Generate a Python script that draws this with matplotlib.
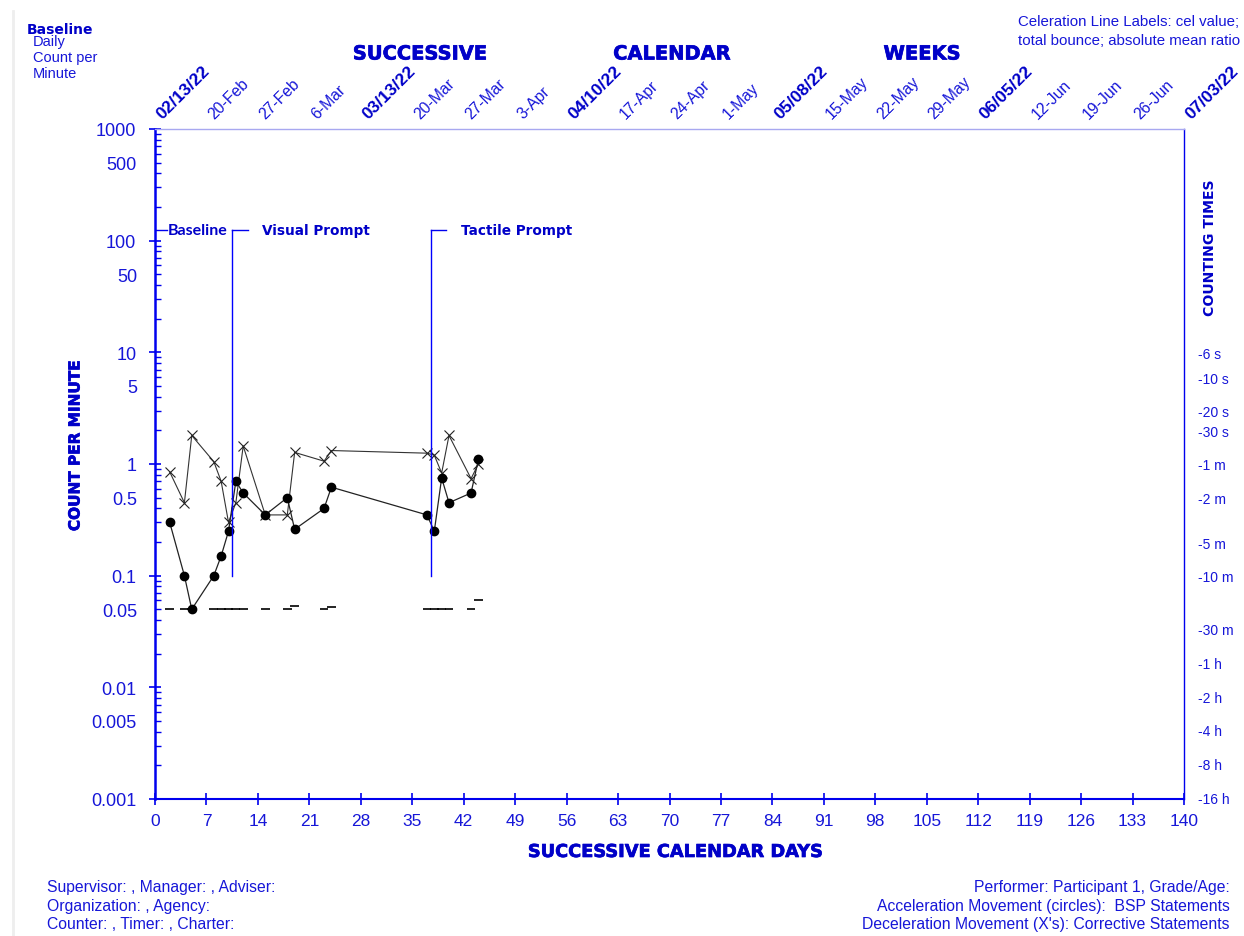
import numpy as np
import matplotlib.pyplot as plt
import matplotlib.patheffects as pe

plt.rcParams['font.family'] = ['Liberation Sans', 'DejaVu Sans']

# Acceleration (circles) and deceleration (X's) counts per minute
days = [2, 4, 5, 8, 9, 10, 11, 12, 15, 18, 19, 23, 24, 37, 38, 39, 40, 43, 44]
bsp = [0.3, 0.1, 0.05, 0.1, 0.15, 0.25, 0.7, 0.55, 0.35, 0.5, 0.26, 0.4, 0.62,
       0.35, 0.25, 0.75, 0.45, 0.55, 1.1]
corrective = [0.85, 0.45, 1.8, 1.05, 0.7, 0.3, 0.45, 1.45, 0.35, 0.35, 1.27, 1.06, 1.32,
              1.25, 1.2, 0.83, 1.8, 0.74, 1.0]
# record floor (1 / counting time)
floor = [0.05, 0.05, 0.05, 0.05, 0.05, 0.05, 0.05, 0.05, 0.05, 0.05, 0.053, 0.05, 0.052,
         0.05, 0.05, 0.05, 0.05, 0.05, 0.06]

# phase changes
phase_names = ["Baseline", "Visual Prompt", "Tactile Prompt"]
phase_days = [0, 10.5, 37.5]

week_days = list(range(0, 141, 7))
week_labels = ["02/13/22", "20-Feb", "27-Feb", "6-Mar", "03/13/22", "20-Mar", "27-Mar",
               "3-Apr", "04/10/22", "17-Apr", "24-Apr", "1-May", "05/08/22", "15-May",
               "22-May", "29-May", "06/05/22", "12-Jun", "19-Jun", "26-Jun", "07/03/22"]

y_major = [1000, 100, 10, 1, 0.1, 0.01, 0.001]
y_major_labels = ["1000", "100", "10", "1", "0.1", "0.01", "0.001"]
time_vals = [10, 6, 3, 2, 1, 0.5, 0.2, 0.1, 1 / 30, 1 / 60, 1 / 120, 1 / 240, 1 / 480, 1 / 960]
time_labels = ["-6 s", "-10 s", "-20 s", "-30 s", "-1 m", "-2 m", "-5 m", "-10 m",
               "-30 m", "-1 h", "-2 h", "-4 h", "-8 h", "-16 h"]

BLUE = "#1616d8"
DARK = "#0000c8"
LINE = "#0000ee"
W, H = 1244, 937

fig = plt.figure(figsize=(W / 100, H / 100), dpi=100)
ax = fig.add_axes([155 / W, 1 - 800 / H, (1184 - 155) / W, (800 - 130) / H])
ax.set_yscale("log")
ax.set_xlim(0, 140)
ax.set_ylim(0.001, 1000)

# data
ax.hlines(floor, np.array(days) - 0.6, np.array(days) + 0.6, color="black", lw=1.2)
ax.plot(days, corrective, color="#333333", lw=0.8, marker="x", ms=6.5, mew=0.8,
        mec="#222222")
ax.plot(days, bsp, color="#222222", lw=0.9, marker="o", ms=6, mfc="black", mec="black")

# phase lines
top = 124
ax.plot([0, 1.6], [top, top], color=LINE, lw=1)
ax.text(1.8, top, phase_names[0], color=DARK, fontsize=11.5, fontweight="bold",
        family="Lato", va="center", ha="left")
for d, name in zip(phase_days[1:], phase_names[1:]):
    ax.plot([d, d], [0.1, top], color="#0000ff", lw=1)
    ax.plot([d, d + 2.1], [top, top], color=LINE, lw=1)
    ax.text(d + 4.1, top, name, color=DARK, fontsize=9.8, fontweight="bold",
            family="DejaVu Sans", va="center", ha="left")

# axes styling
for side in ["left", "bottom", "right"]:
    ax.spines[side].set_color(LINE)
ax.spines["left"].set_linewidth(1.8)
ax.spines["bottom"].set_linewidth(1.5)
ax.spines["right"].set_linewidth(1.0)
ax.spines["top"].set_color("#a8a8f0")
ax.spines["top"].set_linewidth(1.0)

ax.set_xticks(week_days)
ax.set_xticks(range(0, 141), minor=True)
ax.tick_params(axis="x", which="major", direction="inout", length=8, width=1.2,
               color=LINE, labelcolor=BLUE, labelsize=12.5, pad=6)
ax.tick_params(axis="x", which="minor", direction="in", length=3, width=1, color=LINE)

minor_vals = []
minor_labels = []
for dec in [0.001, 0.01, 0.1, 1, 10, 100]:
    for s in range(2, 10):
        minor_vals.append(dec * s)
        minor_labels.append(f"{dec * s:g}" if s == 5 else "")
ax.set_yticks(y_major, y_major_labels)
ax.set_yticks(minor_vals, minor_labels, minor=True)
ax.tick_params(axis="y", which="major", direction="inout", length=9, width=1.2,
               color=LINE, labelcolor=BLUE, labelsize=13, pad=9)
ax.tick_params(axis="y", which="minor", direction="in", length=4, width=1,
               color=LINE, labelcolor=BLUE, labelsize=13, pad=13)

# counting times on the right
ax2 = ax.twinx()
ax2.set_yscale("log")
ax2.set_ylim(0.001, 1000)
ax2.set_yticks(time_vals, time_labels)
ax2.minorticks_off()
ax2.tick_params(axis="y", length=0, labelcolor=BLUE, labelsize=10, pad=10)
for s in ax2.spines.values():
    s.set_visible(False)

# calendar dates along the top
for d, lab in zip(week_days, week_labels):
    bold = "/" in lab
    ax.annotate(lab, xy=(d, 1), xycoords=("data", "axes fraction"),
                xytext=(7, 6), textcoords="offset points", rotation=45,
                rotation_mode="anchor", ha="left", va="bottom", color=DARK if bold else BLUE,
                fontsize=12.5 if bold else 11.3, fontweight="bold" if bold else "normal")

# headings and labels
heavy = dict(color=DARK, fontweight="bold", family="DejaVu Sans",
             path_effects=[pe.withStroke(linewidth=0.5, foreground=DARK)])
fig.text(420 / W, 1 - 55 / H, "SUCCESSIVE", fontsize=14, ha="center", va="center", **heavy)
fig.text(672 / W, 1 - 55 / H, "CALENDAR", fontsize=14, ha="center", va="center", **heavy)
fig.text(922 / W, 1 - 55 / H, "WEEKS", fontsize=14, ha="center", va="center", **heavy)
fig.text(675 / W, 1 - 853 / H, "SUCCESSIVE CALENDAR DAYS", fontsize=12.8, ha="center",
         va="center", **heavy)
fig.text(75 / W, 1 - 447 / H, "COUNT PER MINUTE", fontsize=11, rotation=90, ha="center",
         va="center", **heavy)
fig.text(1210 / W, 1 - 248 / H, "COUNTING TIMES", fontsize=10.1, rotation=90, ha="center",
         va="center", color=DARK, fontweight="bold", family="DejaVu Sans")

fig.text(27 / W, 1 - 30 / H, "Baseline", fontsize=10, ha="left", va="center", color=DARK,
         fontweight="bold", family="DejaVu Sans")
reg = dict(color=BLUE)
fig.text(33 / W, 1 - 35 / H, "Daily\nCount per\nMinute", fontsize=10.5, ha="left",
         va="top", linespacing=1.2, **reg)
fig.text(1018 / W, 1 - 15 / H, "Celeration Line Labels: cel value;\ntotal bounce; absolute mean ratio",
         fontsize=10.8, ha="left", va="top", linespacing=1.45, **reg)
fig.text(47 / W, 1 - 880 / H,
         "Supervisor: , Manager: , Adviser:\nOrganization: , Agency:\nCounter: , Timer: , Charter:",
         fontsize=11.3, ha="left", va="top", linespacing=1.3, **reg)
fig.text(1230 / W, 1 - 880 / H,
         "Performer: Participant 1, Grade/Age:\nAcceleration Movement (circles):  BSP Statements\n"
         "Deceleration Movement (X's): Corrective Statements",
         fontsize=11.3, ha="right", va="top", linespacing=1.3, multialignment="right", **reg)

# page edge
fig.add_artist(plt.Line2D([13 / W, 13 / W], [0, 1 - 12 / H], transform=fig.transFigure,
                          color="#eeeeee", lw=2))

fig.savefig("out.png", dpi=100)
